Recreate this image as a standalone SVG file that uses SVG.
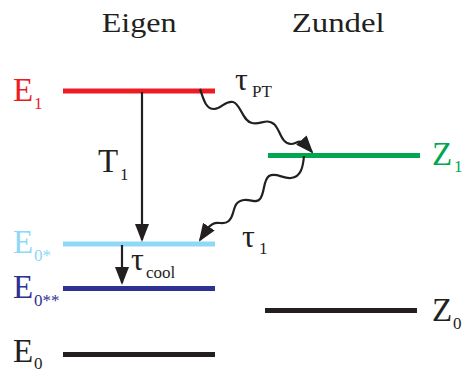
<svg xmlns="http://www.w3.org/2000/svg" width="465" height="370" viewBox="0 0 465 370">
<defs>
<marker id="ah" viewBox="0 0 18 14" refX="16" refY="7" markerWidth="18" markerHeight="14" markerUnits="userSpaceOnUse" orient="auto">
<path d="M0,0 L18,7 L0,14 z" fill="#231f20"/>
</marker>
</defs>
<g id="titles" fill="#231f20">
<text font-family="Liberation Serif" font-size="28" x="101.7" y="31.7" textLength="75" lengthAdjust="spacingAndGlyphs">Eigen</text>
<text font-family="Liberation Serif" font-size="28" x="291.7" y="31.7" textLength="93" lengthAdjust="spacingAndGlyphs">Zundel</text>
</g>
<g id="E1" fill="#ed1c24">
<line x1="63" y1="91" x2="215" y2="91" stroke="#ed1c24" stroke-width="5"/>
<text font-family="Liberation Serif" font-size="33" x="13" y="100.7">E</text><text font-family="Liberation Serif" font-size="17" x="34" y="109">1</text>
</g>
<g id="E0star" fill="#8ed8f8">
<line x1="63" y1="244" x2="215" y2="244" stroke="#8ed8f8" stroke-width="5"/>
<text font-family="Liberation Serif" font-size="33" x="13" y="253">E</text><text font-family="Liberation Serif" font-size="17" x="34" y="261">0*</text>
</g>
<g id="E0starstar" fill="#2e3192">
<line x1="63" y1="288.5" x2="215" y2="288.5" stroke="#2e3192" stroke-width="5"/>
<text font-family="Liberation Serif" font-size="33" x="13" y="297.5">E</text><text font-family="Liberation Serif" font-size="17" x="34" y="306">0**</text>
</g>
<g id="E0" fill="#231f20">
<line x1="63" y1="354.5" x2="215" y2="354.5" stroke="#231f20" stroke-width="5"/>
<text font-family="Liberation Serif" font-size="33" x="13" y="362">E</text><text font-family="Liberation Serif" font-size="17" x="34" y="368.5">0</text>
</g>
<g id="Z1" fill="#00a651">
<line x1="268" y1="155.5" x2="420" y2="155.5" stroke="#00a651" stroke-width="5"/>
<text font-family="Liberation Serif" font-size="33" x="432" y="165">Z</text><text font-family="Liberation Serif" font-size="17" x="454" y="172">1</text>
</g>
<g id="Z0" fill="#231f20">
<line x1="265" y1="310.5" x2="417" y2="310.5" stroke="#231f20" stroke-width="5"/>
<text font-family="Liberation Serif" font-size="33" x="432" y="320.7">Z</text><text font-family="Liberation Serif" font-size="17" x="453" y="329">0</text>
</g>
<g id="connectors" fill="#231f20">
<g stroke="#231f20" stroke-width="2.2" fill="none" marker-end="url(#ah)">
<line x1="142" y1="92" x2="142" y2="240"/>
<line x1="122" y1="245" x2="122" y2="283"/>
<path d="M200,89 C203,97 205,109 214,109 C222,109 225,100 233,102 C241,104 242,121 252,123 C261,125 266,118 274,124 C280,129 281,144 291,144 C296,144 299,139 304,143 L312,152"/>
<path d="M304,156 C303,167 301,177 291,178 C283,179 276,172 269,176 C263,180 265,193 260,199 C256,204 251,199 244,200 C236,201 235,206 233,213 C231,220 228,224 220,223 C214,222 211,224 208,228 L200,240"/>
</g>
<text font-family="Liberation Serif" font-size="33" x="98" y="171.5">T</text><text font-family="Liberation Serif" font-size="17" x="120" y="180">1</text>
<text font-family="Liberation Serif" font-size="32" x="235" y="90">τ</text><text font-family="Liberation Serif" font-size="17" x="252" y="96.5">PT</text>
<text font-family="Liberation Serif" font-size="32" x="242" y="247">τ</text><text font-family="Liberation Serif" font-size="17" x="259" y="253.5">1</text>
<text font-family="Liberation Serif" font-size="32" x="131" y="270">τ</text><text font-family="Liberation Serif" font-size="17" x="146" y="278">cool</text>
</g>
</svg>
